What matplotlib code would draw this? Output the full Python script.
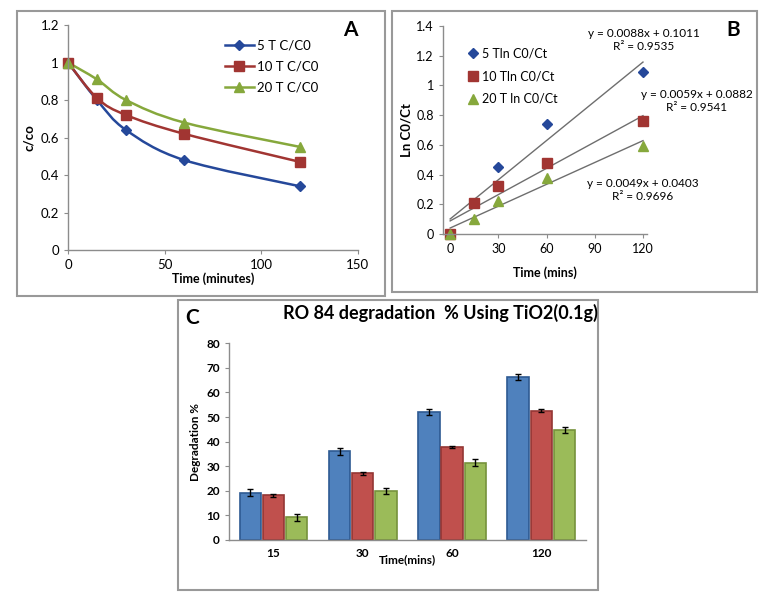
import numpy as np
import matplotlib
matplotlib.use('Agg')
import matplotlib.pyplot as plt
from matplotlib.path import Path
from matplotlib.patches import PathPatch, Rectangle
from matplotlib.lines import Line2D

plt.rcParams['font.family'] = ['Lato', 'DejaVu Sans']

# panel A : C/C0 vs time
time_a = [0, 15, 30, 60, 120]
cc0_5t = [1.0, 0.80, 0.64, 0.48, 0.34]
cc0_10t = [1.0, 0.81, 0.72, 0.62, 0.47]
cc0_20t = [1.0, 0.91, 0.80, 0.68, 0.55]
labels_a = ['5 T C/C0', '10 T C/C0', '20 T C/C0']

# panel B : ln C0/Ct vs time, with linear fits
time_b = [0, 15, 30, 60, 120]
ln_5t = [0, 0.21, 0.45, 0.74, 1.09]
ln_10t = [0, 0.21, 0.32, 0.48, 0.76]
ln_20t = [0, 0.10, 0.22, 0.38, 0.59]
labels_b = ['5 Tln C0/Ct', '10 Tln C0/Ct', '20 T ln C0/Ct']
slopes = [0.0088, 0.0059, 0.0049]
intercepts = [0.1011, 0.0882, 0.0403]
r2 = [0.9535, 0.9541, 0.9696]

# panel C : degradation %
time_c = ['15', '30', '60', '120']
deg_5t = [19.3, 36.0, 52.0, 66.2]
deg_10t = [18.2, 27.2, 37.8, 52.6]
deg_20t = [9.2, 20.0, 31.5, 44.6]
err_5t = [1.3, 1.3, 1.2, 1.2]
err_10t = [0.6, 0.6, 0.5, 0.5]
err_20t = [1.3, 1.3, 1.3, 1.2]

line_cols = ['#25489A', '#A13532', '#86A83C']
bar_cols = ['#4F81BD', '#C0504D', '#9BBB59']
bar_edges = ['#2E5A92', '#943634', '#76923C']
spine_col = '#8C8C8C'


def smooth_path(x, y):
    # Excel-like smoothed line: Catmull-Rom through the points, as Bezier segments
    pts = np.column_stack([x, y]).astype(float)
    verts = [pts[0]]
    codes = [Path.MOVETO]
    n = len(pts)
    for i in range(n - 1):
        p0 = pts[i - 1] if i > 0 else pts[i]
        p1 = pts[i]
        p2 = pts[i + 1]
        p3 = pts[i + 2] if i + 2 < n else pts[i + 1]
        verts += [p1 + (p2 - p0) / 6, p2 - (p3 - p1) / 6, p2]
        codes += [Path.CURVE4] * 3
    return Path(verts, codes)


def style_axes(ax):
    for s in ['top', 'right']:
        ax.spines[s].set_visible(False)
    for s in ['left', 'bottom']:
        ax.spines[s].set_color(spine_col)
        ax.spines[s].set_linewidth(1.0)
    ax.tick_params(colors=spine_col, labelcolor='black', labelsize=9.5, length=3)


fig = plt.figure(figsize=(7.73, 6.0), dpi=100)

# panel frames
W, H = 773, 600
for (x0, y0, x1, y1) in [(17, 11, 385, 296), (392, 11, 757, 292), (178, 300, 598, 590)]:
    fig.add_artist(Rectangle((x0 / W, 1 - y1 / H), (x1 - x0) / W, (y1 - y0) / H,
                             transform=fig.transFigure, fill=False,
                             edgecolor='#999999', lw=1.5))

# ---------- A ----------
axA = fig.add_axes([0.088, 0.5833, 0.375, 0.375])
markers_a = ['D', 's', '^']
msizes_a = [5, 7.5, 7.5]
handles = []
for yv, col, m, ms, lab in zip([cc0_5t, cc0_10t, cc0_20t], line_cols, markers_a, msizes_a, labels_a):
    axA.add_patch(PathPatch(smooth_path(time_a, yv), fill=False, edgecolor=col, lw=1.8))
    axA.plot(time_a, yv, ls='none', marker=m, ms=ms, color=col, mec=col, clip_on=False)
    handles.append(Line2D([], [], color=col, lw=1.8, marker=m, ms=ms, label=lab))
axA.set_xlim(0, 150)
axA.set_ylim(0, 1.2)
axA.set_xticks([0, 50, 100, 150])
axA.set_yticks([0, 0.2, 0.4, 0.6, 0.8, 1.0, 1.2])
axA.set_yticklabels(['0', '0.2', '0.4', '0.6', '0.8', '1', '1.2'])
style_axes(axA)
axA.set_xlabel('Time (minutes)', fontsize=9, fontweight='bold', labelpad=1)
axA.set_ylabel('c/co', fontsize=9.5, fontweight='bold', labelpad=4)
axA.legend(handles=handles, loc='upper left', bbox_to_anchor=(0.5, 0.99), frameon=False,
           fontsize=9.5, handlelength=2.2, handletextpad=0.2, labelspacing=0.7)
fig.text(350 / W, 1 - 30 / H, 'A', fontsize=15, fontweight='bold', ha='center', va='center')

# ---------- B ----------
axB = fig.add_axes([0.573, 0.61, 0.264, 0.3467])
markers_b = ['D', 's', '^']
msizes_b = [5.5, 7.5, 7.5]
handles = []
xfit = np.array([time_b[0], time_b[-1]])
for k, b in zip(slopes, intercepts):
    axB.plot(xfit, k * xfit + b, color='#6E6E6E', lw=1.0)
for yv, col, m, ms, lab in zip([ln_5t, ln_10t, ln_20t], line_cols, markers_b, msizes_b, labels_b):
    axB.plot(time_b, yv, ls='none', marker=m, ms=ms, color=col, mec=col, clip_on=False)
    handles.append(Line2D([], [], ls='none', marker=m, ms=ms, color=col, label=lab))
axB.set_xlim(-4.5, 122.5)
axB.set_ylim(0, 1.4)
axB.set_xticks([0, 30, 60, 90, 120])
axB.set_yticks([0, 0.2, 0.4, 0.6, 0.8, 1.0, 1.2, 1.4])
axB.set_yticklabels(['0', '0.2', '0.4', '0.6', '0.8', '1', '1.2', '1.4'])
style_axes(axB)
axB.tick_params(labelsize=9)
axB.set_xlabel('Time (mins)', fontsize=9, fontweight='bold', labelpad=8)
axB.set_ylabel('Ln C0/Ct', fontsize=9.5, fontweight='bold', labelpad=3)
axB.legend(handles=handles, loc='upper left', bbox_to_anchor=(0.07, 0.95), frameon=False,
           fontsize=9, handlelength=0.8, handletextpad=0.3, labelspacing=0.85)
eq_pos = [(120.6, 1.306), (153.6, 0.895), (120.0, 0.296)]
for (ex, ey), k, b, r in zip(eq_pos, slopes, intercepts, r2):
    axB.text(ex, ey, 'y = %.4fx + %.4f\nR² = %.4f' % (k, b, r), fontsize=8.5,
             ha='center', va='center', linespacing=1.15, clip_on=False)
fig.text(733 / W, 1 - 30 / H, 'B', fontsize=15, fontweight='bold', ha='center', va='center')

# ---------- C ----------
axC = fig.add_axes([0.296, 0.10, 0.462, 0.328])
xc = np.arange(len(time_c))
bw = 0.24
offsets = [-0.26, 0, 0.26]
for vals, errs, off, col, ec in zip([deg_5t, deg_10t, deg_20t], [err_5t, err_10t, err_20t],
                                    offsets, bar_cols, bar_edges):
    axC.bar(xc + off, vals, bw, color=col, edgecolor=ec, lw=1.2,
            yerr=errs, capsize=2.5, error_kw=dict(ecolor='black', elinewidth=1.0, capthick=1.0))
axC.set_xlim(-0.5, 3.5)
axC.set_ylim(0, 80)
axC.set_yticks(range(0, 81, 10))
axC.set_xticks(xc)
axC.set_xticklabels(time_c)
style_axes(axC)
axC.tick_params(axis='x', length=0, pad=6)
axC.tick_params(labelsize=8.5)
for t in axC.get_xticklabels() + axC.get_yticklabels():
    t.set_fontweight('bold')
axC.set_xlabel('Time(mins)', fontsize=8.5, fontweight='bold', labelpad=-4)
axC.set_ylabel('Degradation %', fontsize=8.5, fontweight='bold', labelpad=4)
fig.text(440 / W, 1 - 313 / H, 'RO 84 degradation  % Using TiO2(0.1g)', fontsize=13,
         fontweight='bold', ha='center', va='center')
fig.text(192 / W, 1 - 318 / H, 'C', fontsize=15, fontweight='bold', ha='center', va='center')

fig.savefig('out.png', dpi=100)
